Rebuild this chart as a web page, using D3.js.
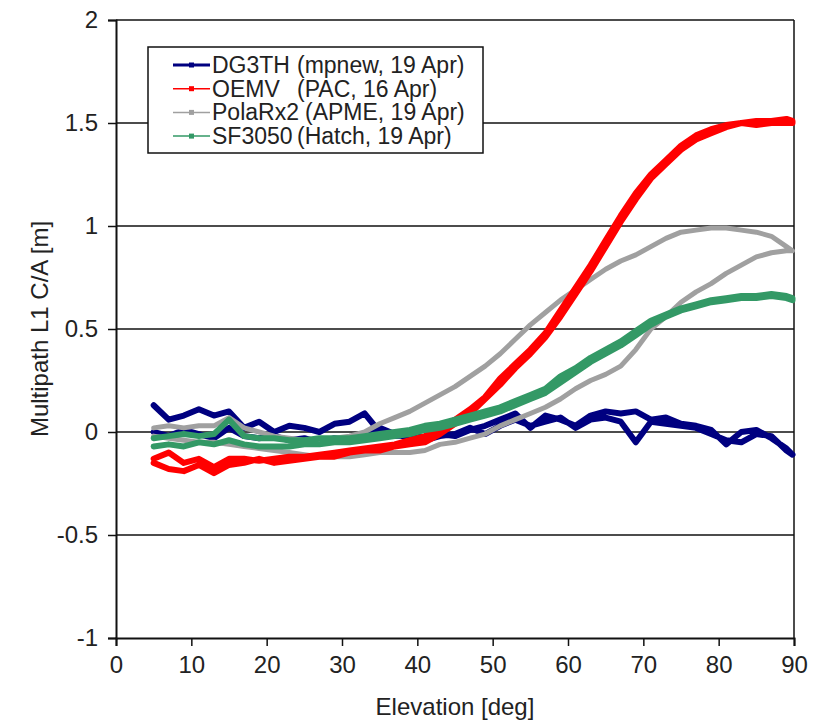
<!DOCTYPE html>
<html>
<head>
  <meta charset="utf-8">
  <script src="https://d3js.org/d3.v7.min.js"></script>
  <style>
    body { margin: 0; background: #fff; }
    text { font-family: "Liberation Sans", Arial, sans-serif; fill: #222; }
  </style>
</head>
<body>
  <svg id="chart" width="827" height="725"></svg>

  <script>
    // elevation grid (deg) shared by every branch
    const elevation = [5, 7, 9, 11, 13, 15, 17, 19, 21, 23, 25, 27, 29, 31, 33, 35, 37, 39, 41, 43, 45,
      47, 49, 51, 53, 55, 57, 59, 61, 63, 65, 67, 69, 71, 73, 75, 77, 79, 81, 83, 85, 87, 89, 89.8];

    // multipath values (m), one array for each pass branch
    const dg3thRise = [0.13, 0.06, 0.08, 0.11, 0.08, 0.10, 0.02, 0.05, 0.00, 0.03, 0.02, 0.00, 0.04, 0.05, 0.09,
      0.00, -0.02, -0.01, -0.03, -0.01, -0.02, 0.01, 0.03, 0.06, 0.09, 0.02, 0.08, 0.06, 0.03, 0.08,
      0.10, 0.09, 0.10, 0.06, 0.07, 0.04, 0.03, 0.01, -0.06, 0.00, 0.01, -0.03, -0.08, -0.11];
    const dg3thSet = [0.00, -0.02, 0.01, -0.01, -0.03, 0.02, -0.02, -0.03, -0.02, -0.04, -0.03, -0.05, -0.03, -0.04, -0.02,
      0.02, -0.01, -0.03, -0.04, -0.02, -0.01, 0.02, -0.01, 0.03, 0.06, 0.03, 0.05, 0.07, 0.02, 0.06,
      0.07, 0.05, -0.05, 0.05, 0.04, 0.03, 0.02, -0.01, -0.04, -0.05, -0.01, -0.02, -0.09, -0.11];

    const oemvRise = [-0.13, -0.10, -0.15, -0.13, -0.17, -0.13, -0.13, -0.14, -0.13, -0.12, -0.12, -0.11, -0.10, -0.09, -0.08,
      -0.07, -0.06, -0.04, -0.02, 0.02, 0.06, 0.11, 0.17, 0.26, 0.33, 0.40, 0.48, 0.59, 0.70, 0.81,
      0.93, 1.05, 1.16, 1.25, 1.32, 1.39, 1.44, 1.47, 1.49, 1.50, 1.51, 1.51, 1.52, 1.51];
    const oemvSet = [-0.15, -0.18, -0.19, -0.16, -0.20, -0.16, -0.15, -0.13, -0.15, -0.14, -0.13, -0.12, -0.12, -0.10, -0.09,
      -0.09, -0.07, -0.06, -0.05, -0.01, 0.04, 0.09, 0.16, 0.23, 0.31, 0.38, 0.46, 0.56, 0.67, 0.78,
      0.90, 1.02, 1.13, 1.23, 1.30, 1.37, 1.42, 1.45, 1.48, 1.50, 1.49, 1.50, 1.50, 1.50];

    const polaRise = [0.02, 0.03, 0.02, 0.03, 0.03, 0.07, 0.02, 0.00, -0.02, -0.03, -0.04, -0.04, -0.03, -0.02, 0.00,
      0.04, 0.07, 0.10, 0.14, 0.18, 0.22, 0.27, 0.32, 0.38, 0.45, 0.52, 0.58, 0.64, 0.69, 0.74,
      0.79, 0.83, 0.86, 0.90, 0.94, 0.97, 0.98, 0.99, 0.99, 0.98, 0.97, 0.95, 0.90, 0.88];
    const polaSet = [-0.02, -0.03, -0.04, -0.05, -0.05, -0.06, -0.07, -0.08, -0.09, -0.10, -0.11, -0.12, -0.12, -0.12, -0.11,
      -0.10, -0.10, -0.10, -0.09, -0.06, -0.05, -0.03, -0.01, 0.03, 0.06, 0.09, 0.12, 0.16, 0.21, 0.25,
      0.28, 0.32, 0.40, 0.50, 0.56, 0.63, 0.68, 0.72, 0.77, 0.81, 0.85, 0.87, 0.88, 0.88];

    const sf3050Rise = [-0.03, -0.02, -0.01, -0.02, -0.01, 0.06, -0.02, -0.03, -0.03, -0.04, -0.04, -0.03, -0.03, -0.03, -0.02,
      -0.01, 0.00, 0.01, 0.03, 0.04, 0.06, 0.08, 0.10, 0.12, 0.15, 0.18, 0.21, 0.27, 0.31, 0.36,
      0.40, 0.44, 0.49, 0.54, 0.57, 0.60, 0.62, 0.64, 0.65, 0.66, 0.66, 0.67, 0.66, 0.65];
    const sf3050Set = [-0.07, -0.06, -0.07, -0.05, -0.06, -0.04, -0.06, -0.07, -0.07, -0.07, -0.06, -0.06, -0.05, -0.05, -0.04,
      -0.03, -0.02, -0.01, 0.01, 0.02, 0.04, 0.06, 0.08, 0.10, 0.13, 0.16, 0.19, 0.24, 0.29, 0.34,
      0.38, 0.42, 0.47, 0.52, 0.56, 0.59, 0.61, 0.63, 0.64, 0.65, 0.65, 0.66, 0.65, 0.64];

    const xTicks = [0, 10, 20, 30, 40, 50, 60, 70, 80, 90];
    const yTicks = [-1, -0.5, 0, 0.5, 1, 1.5, 2];

    const series = [
      { name: "DG3TH", info: "(mpnew, 19 Apr)", rise: dg3thRise, set: dg3thSet, color: "#000080" },
      { name: "OEMV", info: "(PAC, 16 Apr)", rise: oemvRise, set: oemvSet, color: "#ff0000" },
      { name: "PolaRx2", info: "(APME, 19 Apr)", rise: polaRise, set: polaSet, color: "#a0a0a0" },
      { name: "SF3050", info: "(Hatch, 19 Apr)", rise: sf3050Rise, set: sf3050Set, color: "#339966" }
    ];

    const svg = d3.select("#chart");
    const plotLeft = 116, plotRight = 794, plotTop = 20, plotBottom = 638;

    const x = d3.scaleLinear().domain([0, 90]).range([plotLeft, plotRight]);
    const y = d3.scaleLinear().domain([-1, 2]).range([plotBottom, plotTop]);

    // horizontal grid lines
    svg.append("g")
      .selectAll("line")
      .data(yTicks.filter(d => d > -1))
      .enter()
      .append("line")
      .attr("x1", plotLeft).attr("x2", plotRight)
      .attr("y1", d => y(d)).attr("y2", d => y(d))
      .attr("stroke", "#111").attr("stroke-width", 1.5);

    // right border
    svg.append("line")
      .attr("x1", plotRight).attr("x2", plotRight).attr("y1", plotTop).attr("y2", plotBottom)
      .attr("stroke", "#111").attr("stroke-width", 1.5);

    // series lines (one path: rising branch then setting branch back)
    const line = d3.line().x(d => x(d[0])).y(d => y(d[1]));
    const drawOrder = [0, 2, 1, 3];
    drawOrder.forEach(i => {
      const s = series[i];
      const pts = s.rise.map((v, k) => [elevation[k], v])
        .concat(s.set.map((v, k) => [elevation[k], v]).reverse());
      svg.append("path")
        .datum(pts)
        .attr("d", line)
        .attr("fill", "none")
        .attr("stroke", s.color)
        .attr("stroke-width", s.name === "PolaRx2" ? 5 : 6)
        .attr("stroke-linejoin", "round")
        .attr("stroke-linecap", "round");
    });

    // axes (plain hyphen minus, as in the original)
    const fmt = d => String(d);
    const yAxis = svg.append("g")
      .attr("transform", `translate(${plotLeft},0)`)
      .call(d3.axisLeft(y).tickValues(yTicks).tickSize(8).tickPadding(10).tickFormat(fmt));
    const xAxis = svg.append("g")
      .attr("transform", `translate(0,${plotBottom})`)
      .call(d3.axisBottom(x).tickValues(xTicks).tickSize(8).tickPadding(10).tickFormat(fmt));

    [yAxis, xAxis].forEach(g => {
      g.select(".domain").attr("stroke", "#111").attr("stroke-width", 2);
      g.selectAll(".tick line").attr("stroke", "#111").attr("stroke-width", 1.5);
      g.selectAll(".tick text")
        .style("font-family", "'Liberation Sans', Arial, sans-serif")
        .style("font-size", "24px")
        .attr("fill", "#222");
    });

    // axis titles
    svg.append("text")
      .attr("x", (plotLeft + plotRight) / 2)
      .attr("y", 715)
      .attr("text-anchor", "middle")
      .style("font-size", "24px")
      .text("Elevation [deg]");

    svg.append("text")
      .attr("transform", `translate(48,${(plotTop + plotBottom) / 2}) rotate(-90)`)
      .attr("text-anchor", "middle")
      .style("font-size", "24px")
      .text("Multipath L1 C/A [m]");

    // legend
    const legend = svg.append("g");
    legend.append("rect")
      .attr("x", 148).attr("y", 47).attr("width", 335).attr("height", 106)
      .attr("fill", "#fff").attr("stroke", "#111").attr("stroke-width", 1.5);

    const rows = legend.selectAll(".entry")
      .data(series)
      .enter()
      .append("g")
      .attr("class", "entry")
      .attr("transform", (d, i) => `translate(0,${65 + i * 23.7})`);

    rows.append("line")
      .attr("x1", 173).attr("x2", 210).attr("y1", 0).attr("y2", 0)
      .attr("stroke", d => d.color).attr("stroke-width", d => d.name === "DG3TH" ? 3 : 1.5);
    rows.append("rect")
      .attr("x", 189).attr("y", -2.5).attr("width", 5).attr("height", 5)
      .attr("fill", d => d.color);

    const labels = rows.append("text")
      .attr("y", 8)
      .style("font-size", "23px");
    labels.append("tspan")
      .attr("x", 212)
      .text(d => d.name);
    labels.append("tspan")
      .attr("x", d => d.name === "PolaRx2" ? 305 : 297)
      .text(d => d.info);
  </script>
</body>
</html>
